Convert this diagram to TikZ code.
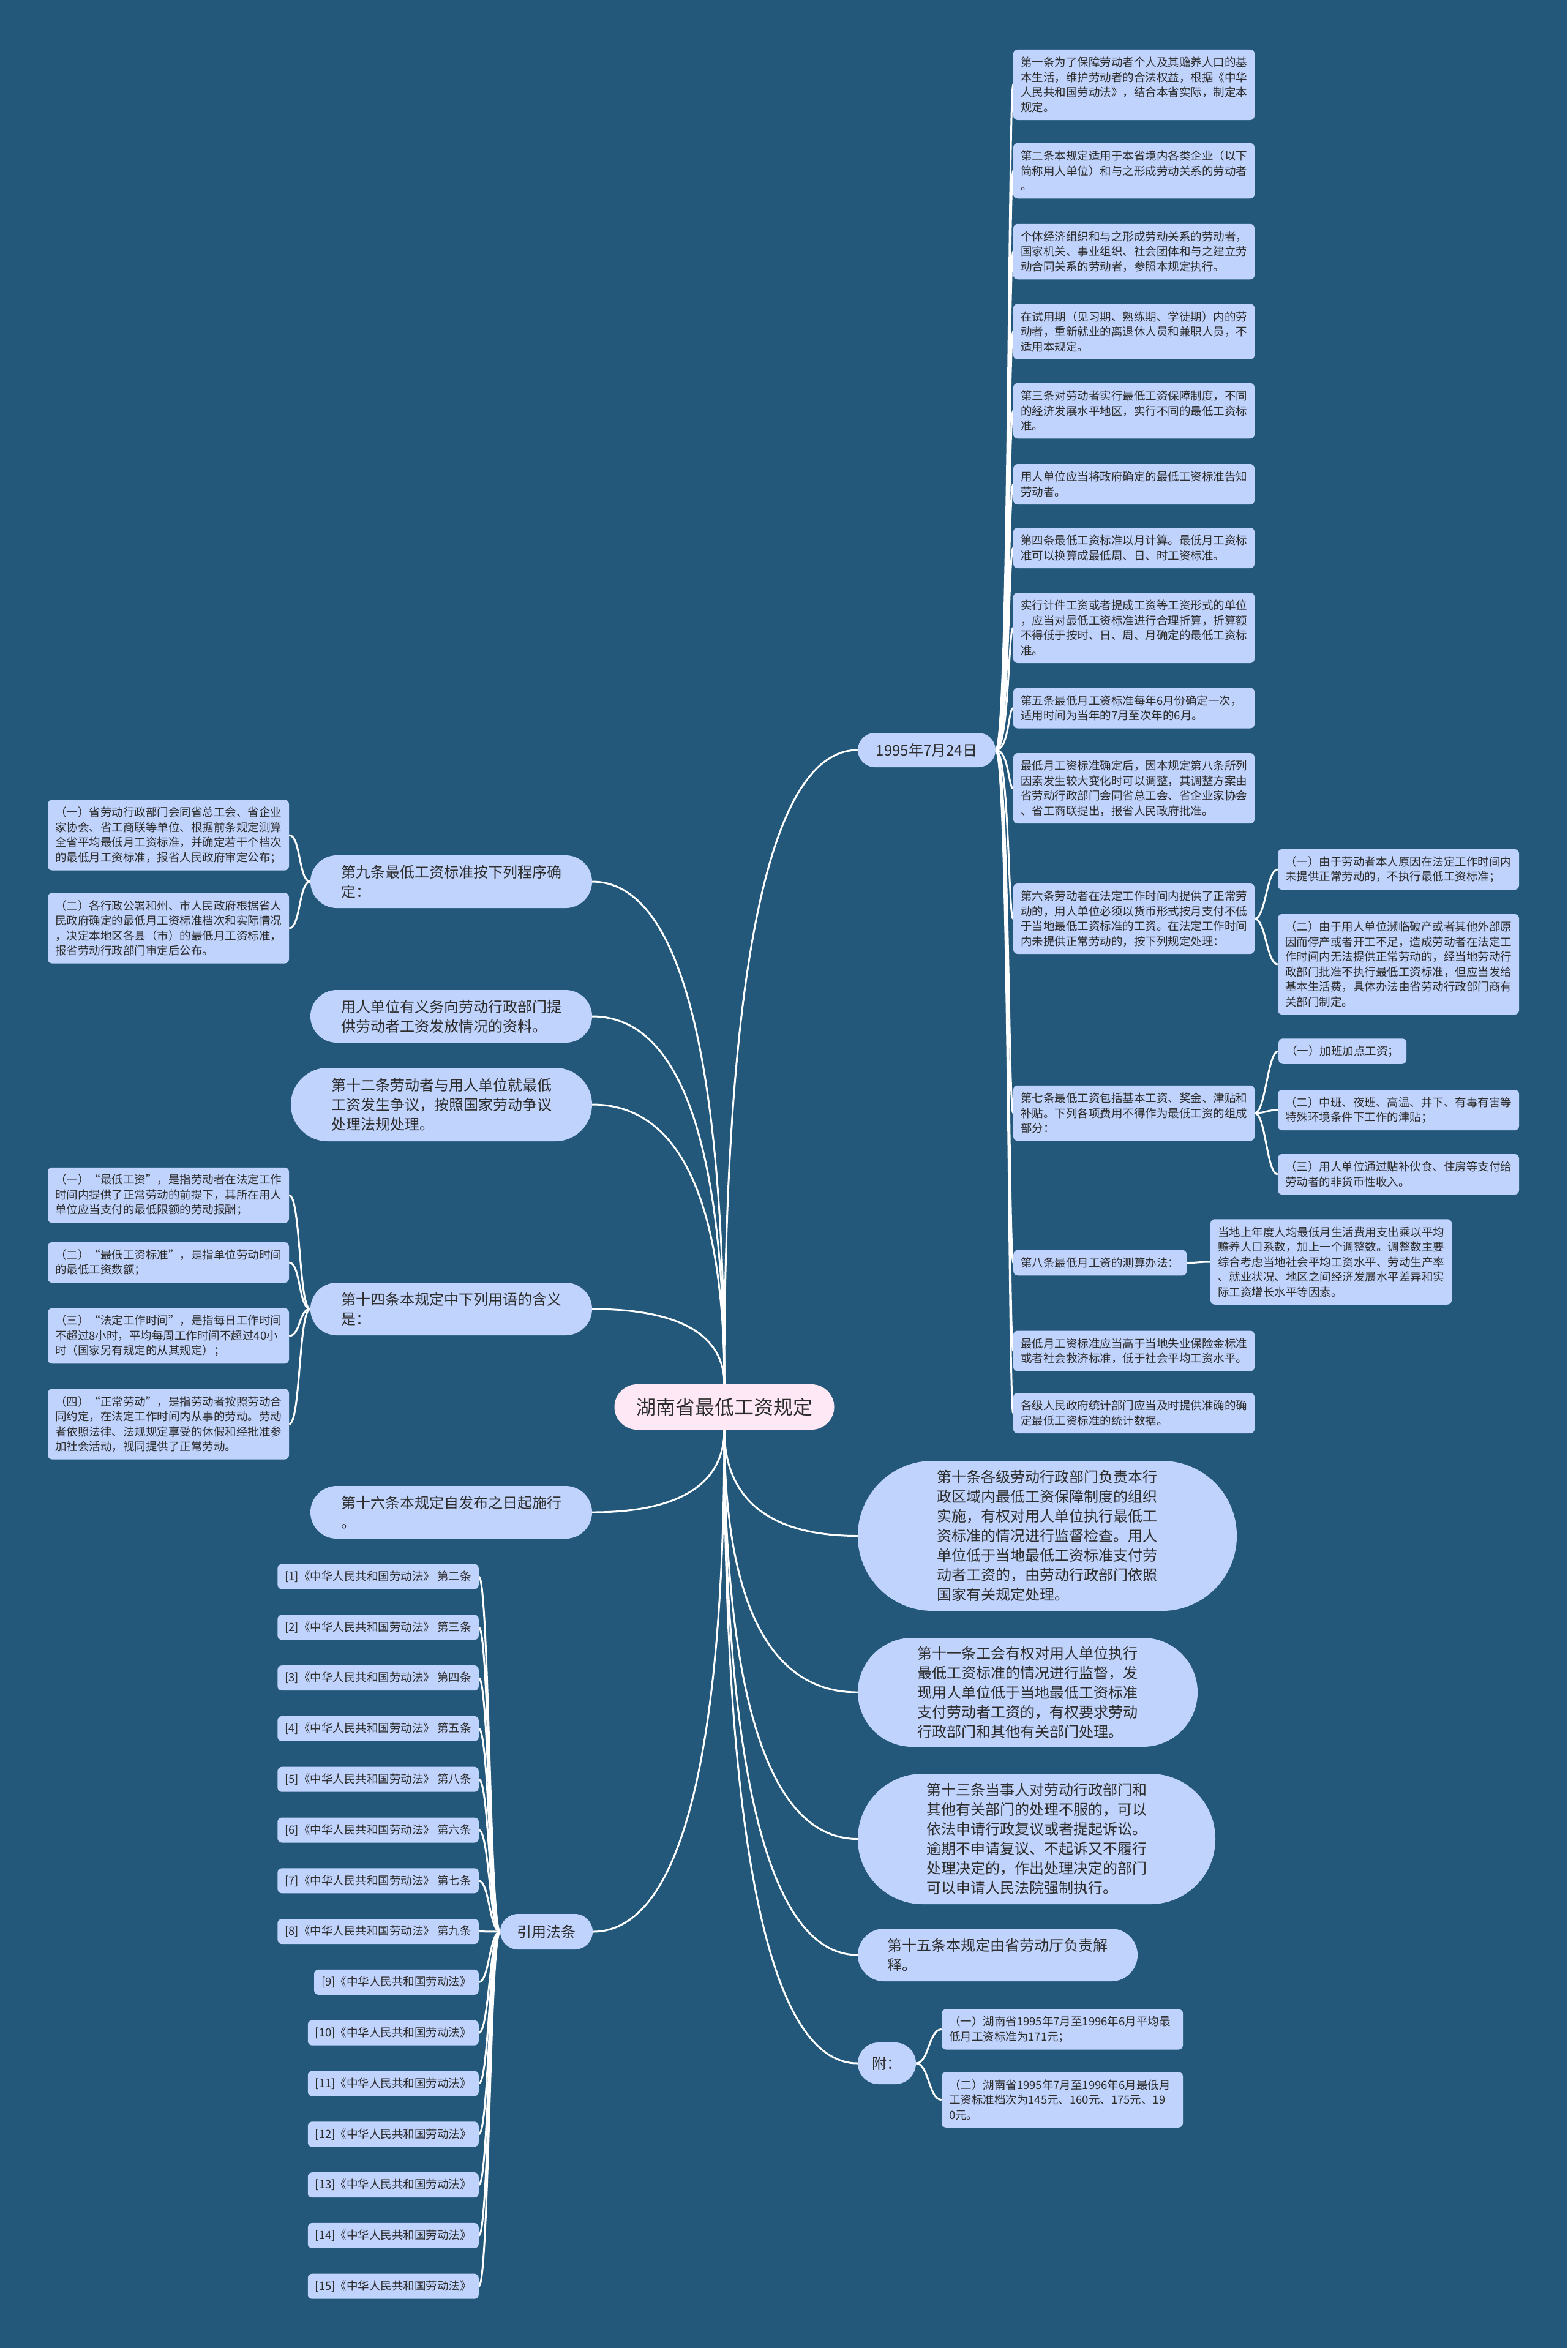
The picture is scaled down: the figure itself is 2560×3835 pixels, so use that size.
\documentclass[tikz,border=0pt]{standalone}
\usepackage{fontspec}
\setmainfont{Noto Sans CJK SC}
\usetikzlibrary{calc}
\definecolor{bgc}{RGB}{35,88,122}
\definecolor{leafc}{RGB}{192,211,252}
\definecolor{rootc}{RGB}{255,232,246}
\definecolor{txtc}{RGB}{45,45,45}
\pgfdeclarelayer{bglayer}
\pgfdeclarelayer{linklayer}
\pgfsetlayers{bglayer,linklayer,main}
\newcommand\fleaf{\fontsize{18.5pt}{24.5pt}\selectfont}
\newcommand\fpill{\fontsize{24pt}{32pt}\selectfont}
\newcommand\froot{\fontsize{32pt}{40pt}\selectfont}
\newcommand\rootlink[2]{\draw[link] (#1) .. controls ($(#1)!0.5!(#1 |- #2)$) and ($(#2)!0.8!(#2 -| #1)$) .. (#2);}
\newcommand\rlink[3]{\draw[link] (#1) .. controls +(#3,0) and +(-#3,0) .. (#2);}
\newcommand\llink[3]{\draw[link] (#1) .. controls +(-#3,0) and +(#3,0) .. (#2);}
\tikzset{
  leafbase/.style={fill=leafc, text=txtc, font=\fleaf, rounded corners=7pt, inner xsep=12pt, inner ysep=0pt, align=left},
  leaf/.style={leafbase, text width=370pt},
  leafn/.style={leafbase, minimum height=41.5pt},
  l1/.style={minimum height=41.5pt},
  l2/.style={minimum height=66pt},
  l3/.style={minimum height=90.5pt},
  l4/.style={minimum height=115pt},
  l5/.style={minimum height=139.5pt},
  l6/.style={minimum height=164pt},
  pill/.style={fill=leafc, text=txtc, font=\fpill, align=left, inner sep=0pt},
  refbox/.style={leafbase, minimum height=41pt, anchor=east},
  link/.style={draw=white, line width=3pt}
}
\begin{document}
\begin{tikzpicture}[x=1pt,y=-1pt]
\begin{pgfonlayer}{bglayer}
\fill[bgc] (0,0) rectangle (2560,3835);
\end{pgfonlayer}
\useasboundingbox (0,0) rectangle (2560,3835);

% root
\node[fill=rootc, text=txtc, font=\froot, minimum width=359pt, minimum height=74pt, rounded corners=37pt, inner sep=0pt] (root) at (1183,2298) {湖南省最低工资规定};

% date branch
\node[pill, minimum width=225pt, minimum height=56pt, rounded corners=28pt] (d1995) at (1513.5,1225) {1995年7月24日};

\node[leaf,l4] (r1) at (1852,138.5) {第一条为了保障劳动者个人及其赡养人口的基\\本生活，维护劳动者的合法权益，根据《中华\\人民共和国劳动法》，结合本省实际，制定本\\规定。};
\node[leaf,l3] (r2) at (1852,279) {第二条本规定适用于本省境内各类企业（以下\\简称用人单位）和与之形成劳动关系的劳动者\\。};
\node[leaf,l3] (r3) at (1852,411) {个体经济组织和与之形成劳动关系的劳动者，\\国家机关、事业组织、社会团体和与之建立劳\\动合同关系的劳动者，参照本规定执行。};
\node[leaf,l3] (r4) at (1852,541.5) {在试用期（见习期、熟练期、学徒期）内的劳\\动者，重新就业的离退休人员和兼职人员，不\\适用本规定。};
\node[leaf,l3] (r5) at (1852,671) {第三条对劳动者实行最低工资保障制度，不同\\的经济发展水平地区，实行不同的最低工资标\\准。};
\node[leaf,l2] (r6) at (1852,791) {用人单位应当将政府确定的最低工资标准告知\\劳动者。};
\node[leaf,l2] (r7) at (1852,895) {第四条最低工资标准以月计算。最低月工资标\\准可以换算成最低周、日、时工资标准。};
\node[leaf,l4] (r8) at (1852,1025.5) {实行计件工资或者提成工资等工资形式的单位\\，应当对最低工资标准进行合理折算，折算额\\不得低于按时、日、周、月确定的最低工资标\\准。};
\node[leaf,l2] (r9) at (1852,1156.5) {第五条最低月工资标准每年6月份确定一次，\\适用时间为当年的7月至次年的6月。};
\node[leaf,l4] (r10) at (1852,1287.5) {最低月工资标准确定后，因本规定第八条所列\\因素发生较大变化时可以调整，其调整方案由\\省劳动行政部门会同省总工会、省企业家协会\\、省工商联提出，报省人民政府批准。};
\node[leaf,l4] (r11) at (1852,1500.5) {第六条劳动者在法定工作时间内提供了正常劳\\动的，用人单位必须以货币形式按月支付不低\\于当地最低工资标准的工资。在法定工作时间\\内未提供正常劳动的，按下列规定处理：};
\node[leaf,l3] (r12) at (1852,1818) {第七条最低工资包括基本工资、奖金、津贴和\\补贴。下列各项费用不得作为最低工资的组成\\部分：};
\node[leafn,anchor=west] (r13) at (1655,2062.5) {第八条最低月工资的测算办法：};
\node[leaf,l2] (r14) at (1852,2206.5) {最低月工资标准应当高于当地失业保险金标准\\或者社会救济标准，低于社会平均工资水平。};
\node[leaf,l2] (r15) at (1852,2308) {各级人民政府统计部门应当及时提供准确的确\\定最低工资标准的统计数据。};

\node[leaf,l2] (r11a) at (2284,1420) {（一）由于劳动者本人原因在法定工作时间内\\未提供正常劳动的，不执行最低工资标准；};
\node[leaf,l6] (r11b) at (2284,1575) {（二）由于用人单位濒临破产或者其他外部原\\因而停产或者开工不足，造成劳动者在法定工\\作时间内无法提供正常劳动的，经当地劳动行\\政部门批准不执行最低工资标准，但应当发给\\基本生活费，具体办法由省劳动行政部门商有\\关部门制定。};
\node[leafn,anchor=west] (r12a) at (2088,1717) {（一）加班加点工资；};
\node[leaf,l2] (r12b) at (2284,1813) {（二）中班、夜班、高温、井下、有毒有害等\\特殊环境条件下工作的津贴；};
\node[leaf,l2] (r12c) at (2284,1918) {（三）用人单位通过贴补伙食、住房等支付给\\劳动者的非货币性收入。};
\node[leaf,l5] (r13a) at (2174,2061) {当地上年度人均最低月生活费用支出乘以平均\\赡养人口系数，加上一个调整数。调整数主要\\综合考虑当地社会平均工资水平、劳动生产率\\、就业状况、地区之间经济发展水平差异和实\\际工资增长水平等因素。};

% left branches
\node[pill, minimum width=460pt, minimum height=86pt, rounded corners=43pt] (L1) at (737,1440) {第九条最低工资标准按下列程序确\\定：};
\node[pill, minimum width=460pt, minimum height=86pt, rounded corners=43pt] (L2) at (737,1660) {用人单位有义务向劳动行政部门提\\供劳动者工资发放情况的资料。};
\node[pill, minimum width=492pt, minimum height=120pt, rounded corners=60pt] (L3) at (721,1804) {第十二条劳动者与用人单位就最低\\工资发生争议，按照国家劳动争议\\处理法规处理。};
\node[pill, minimum width=460pt, minimum height=86pt, rounded corners=43pt] (L4) at (737,2138) {第十四条本规定中下列用语的含义\\是：};
\node[pill, minimum width=460pt, minimum height=86pt, rounded corners=43pt] (L5) at (737,2470) {第十六条本规定自发布之日起施行\\。};
\node[pill, minimum width=151pt, minimum height=58pt, rounded corners=29pt] (L6) at (892.5,3155) {引用法条};

\node[leaf,l4] (L1a) at (275,1364) {（一）省劳动行政部门会同省总工会、省企业\\家协会、省工商联等单位、根据前条规定测算\\全省平均最低月工资标准，并确定若干个档次\\的最低月工资标准，报省人民政府审定公布；};
\node[leaf,l4] (L1b) at (275,1516) {（二）各行政公署和州、市人民政府根据省人\\民政府确定的最低月工资标准档次和实际情况\\，决定本地区各县（市）的最低月工资标准，\\报省劳动行政部门审定后公布。};
\node[leaf,l3] (L4a) at (275,1952) {（一）“最低工资”，是指劳动者在法定工作\\时间内提供了正常劳动的前提下，其所在用人\\单位应当支付的最低限额的劳动报酬；};
\node[leaf,l2] (L4b) at (275,2062) {（二）“最低工资标准”，是指单位劳动时间\\的最低工资数额；};
\node[leaf,l3] (L4c) at (275,2182) {（三）“法定工作时间”，是指每日工作时间\\不超过8小时，平均每周工作时间不超过40小\\时（国家另有规定的从其规定）；};
\node[leaf,l4] (L4d) at (275,2326) {（四）“正常劳动”，是指劳动者按照劳动合\\同约定，在法定工作时间内从事的劳动。劳动\\者依照法律、法规规定享受的休假和经批准参\\加社会活动，视同提供了正常劳动。};

\foreach \i/\t in {1/第二条,2/第三条,3/第四条,4/第五条,5/第八条,6/第六条,7/第七条,8/第九条}{
  \node[refbox] (ref\i) at (782,{2575+(\i-1)*82.8}) {[\i]《中华人民共和国劳动法》 \t};
}
\foreach \i in {9,...,15}{
  \node[refbox] (ref\i) at (782,{2575+(\i-1)*82.8}) {[\i]《中华人民共和国劳动法》};
}

% right lower branches
\node[pill, minimum width=619pt, minimum height=245pt, rounded corners=122pt] (B1) at (1710.5,2508.5) {第十条各级劳动行政部门负责本行\\政区域内最低工资保障制度的组织\\实施，有权对用人单位执行最低工\\资标准的情况进行监督检查。用人\\单位低于当地最低工资标准支付劳\\动者工资的，由劳动行政部门依照\\国家有关规定处理。};
\node[pill, minimum width=555pt, minimum height=178pt, rounded corners=89pt] (B2) at (1678.5,2764) {第十一条工会有权对用人单位执行\\最低工资标准的情况进行监督，发\\现用人单位低于当地最低工资标准\\支付劳动者工资的，有权要求劳动\\行政部门和其他有关部门处理。};
\node[pill, minimum width=584pt, minimum height=213pt, rounded corners=106pt] (B3) at (1693,3003.5) {第十三条当事人对劳动行政部门和\\其他有关部门的处理不服的，可以\\依法申请行政复议或者提起诉讼。\\逾期不申请复议、不起诉又不履行\\处理决定的，作出处理决定的部门\\可以申请人民法院强制执行。};
\node[pill, minimum width=457pt, minimum height=86pt, rounded corners=43pt] (B4) at (1629.5,3193) {第十五条本规定由省劳动厅负责解\\释。};
\node[pill, minimum width=95pt, minimum height=68pt, rounded corners=34pt] (B5) at (1448.5,3370) {附：};
\node[leaf,l2] (B5a) at (1735,3314.5) {（一）湖南省1995年7月至1996年6月平均最\\低月工资标准为171元；};
\node[leaf,l3] (B5b) at (1735,3429.5) {（二）湖南省1995年7月至1996年6月最低月\\工资标准档次为145元、160元、175元、19\\0元。};

% connectors
\begin{pgfonlayer}{linklayer}
\rootlink{root.north}{d1995.west}
\rootlink{root.north}{L1.east}
\rootlink{root.north}{L2.east}
\rootlink{root.north}{L3.east}
\rootlink{root.north}{L4.east}
\rootlink{root.south}{L5.east}
\rootlink{root.south}{L6.east}
\rootlink{root.south}{B1.west}
\rootlink{root.south}{B2.west}
\rootlink{root.south}{B3.west}
\rootlink{root.south}{B4.west}
\rootlink{root.south}{B5.west}
\foreach \i in {1,...,15}{\draw[link] (d1995.east) .. controls +(22,0) and +(-8,0) .. (r\i.west);}
\rlink{r11.east}{r11a.west}{18}
\rlink{r11.east}{r11b.west}{18}
\rlink{r12.east}{r12a.west}{18}
\rlink{r12.east}{r12b.west}{18}
\rlink{r12.east}{r12c.west}{18}
\rlink{r13.east}{r13a.west}{20}
\llink{L1.west}{L1a.east}{19}
\llink{L1.west}{L1b.east}{19}
\llink{L4.west}{L4a.east}{19}
\llink{L4.west}{L4b.east}{19}
\llink{L4.west}{L4c.east}{19}
\llink{L4.west}{L4d.east}{19}
\foreach \i in {1,...,15}{\llink{L6.west}{ref\i.east}{17}}
\rlink{B5.east}{B5a.west}{21}
\rlink{B5.east}{B5b.west}{21}
\end{pgfonlayer}
\end{tikzpicture}
\end{document}
